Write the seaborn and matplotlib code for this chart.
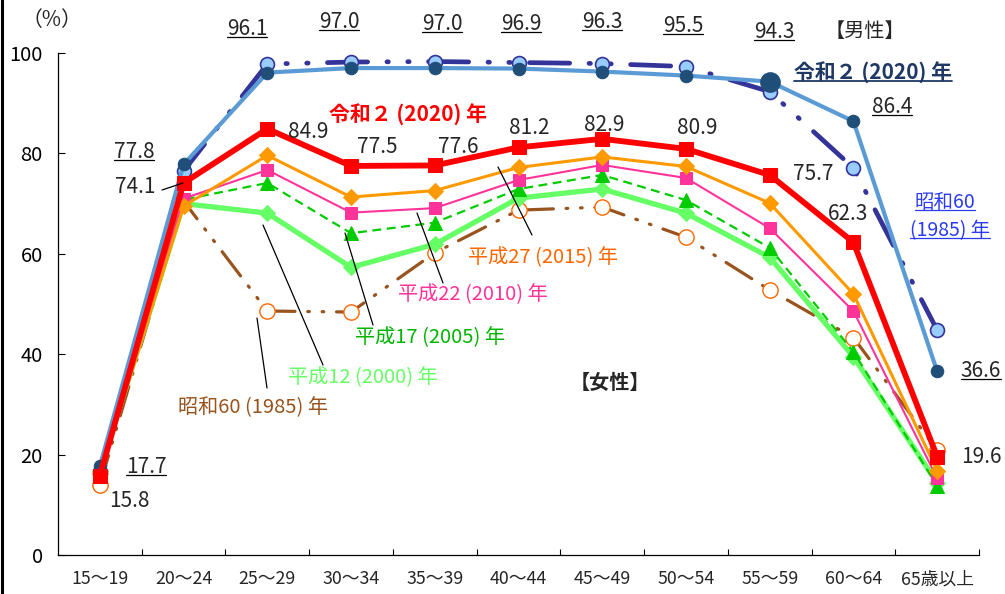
# 年齢階級別労働力率の推移（男性・女性）
import matplotlib
matplotlib.use('Agg')
import matplotlib.pyplot as plt
import seaborn as sns
from matplotlib.lines import Line2D
from matplotlib.ticker import FixedLocator

ages = ['15～19', '20～24', '25～29', '30～34', '35～39', '40～44',
        '45～49', '50～54', '55～59', '60～64', '65歳以上']

male_2020 = [17.7, 77.8, 96.1, 97.0, 97.0, 96.9, 96.3, 95.5, 94.3, 86.4, 36.6]
male_1985 = [16.5, 76.5, 97.8, 98.2, 98.3, 98.1, 97.9, 97.3, 92.3, 77.1, 44.8]
female_2020 = [15.8, 74.1, 84.9, 77.5, 77.6, 81.2, 82.9, 80.9, 75.7, 62.3, 19.6]
female_2015 = [16.2, 69.5, 79.6, 71.3, 72.6, 77.2, 79.3, 77.4, 70.1, 52.0, 16.8]
female_2010 = [15.5, 71.0, 76.7, 68.2, 69.1, 74.7, 77.7, 75.1, 65.1, 48.6, 15.3]
female_2005 = [16.2, 70.8, 74.1, 64.1, 66.2, 72.9, 75.7, 70.7, 61.2, 40.5, 13.8]
female_2000 = [16.8, 70.0, 68.1, 57.3, 61.9, 71.1, 72.9, 68.1, 59.3, 39.5, 14.4]
female_1985 = [14.0, 70.5, 48.6, 48.4, 60.2, 68.7, 69.3, 63.3, 52.8, 43.3, 20.9]

sns.set_style('white')
plt.rcParams['font.family'] = ['Noto Sans CJK JP', 'DejaVu Sans']

W, H = 1005, 594
fig = plt.figure(figsize=(W / 100, H / 100), dpi=100)
ax = fig.add_axes([58 / W, 1 - 555 / H, (979 - 58) / W, (555 - 53) / H])

navy = '#1F4E79'
common = dict(x=ages, sort=False, errorbar=None, ax=ax)

# 女性
sns.lineplot(y=female_1985, color='#99541E', lw=2.3,
             linestyle=(0, (9.5, 4, 0.5, 4, 0.5, 4)), dash_capstyle='round',
             marker='o', ms=11, mfc='white', mec='#FF6600', mew=1.0, zorder=2, **common)
sns.lineplot(y=female_2000, color='#66FF66', lw=3.8, marker='D', ms=8,
             mfc='#66FF66', mec='#66FF66', zorder=3, **common)
sns.lineplot(y=female_2005, color='#00CC00', lw=1.6, linestyle=(0, (4, 2.5)),
             marker='^', ms=10, mfc='#00CC00', mec='#00CC00', zorder=4, **common)
sns.lineplot(y=female_2010, color='#FF3399', lw=1.5, marker='s', ms=8,
             mfc='#FF3399', mec='#FF3399', zorder=5, **common)
sns.lineplot(y=female_2015, color='#FF9900', lw=2.2, marker='D', ms=8,
             mfc='#FF9900', mec='#FF9900', zorder=6, **common)

# 男性
sns.lineplot(y=male_1985, color='#333399', lw=3.4,
             linestyle=(20.7, (8.5, 4.1, 0.3, 4.1, 0.3, 4.1)), dash_capstyle='round',
             marker='o', ms=10, mfc='#99CCFF', mec='#333399', mew=1.2, zorder=7, **common)
sns.lineplot(y=male_2020, color='#5B9BD5', lw=3.0, marker='o', ms=9,
             mfc=navy, mec=navy, zorder=8, **common)
sns.scatterplot(x=[ages[8]], y=[male_2020[8]], s=190, color=navy,
                edgecolor=navy, zorder=9, ax=ax)

sns.lineplot(y=female_2020, color='#FF0000', lw=4.2, marker='s', ms=10,
             mfc='#FF0000', mec='#FF0000', zorder=10, **common)

for ln in ax.lines:
    ln.set_clip_on(False)

ax.set_xlim(-0.5, 10.5)
ax.set_ylim(0, 100)
ax.set_yticks([0, 20, 40, 60, 80, 100])
ax.set_xlabel('')
ax.set_ylabel('')
ax.xaxis.set_minor_locator(FixedLocator([i + 0.5 for i in range(11)]))
ax.tick_params(axis='y', which='major', direction='in', length=5, width=0.8,
               labelsize=14.5, pad=11, left=True, colors='black')
ax.tick_params(axis='x', which='major', length=0, labelsize=12.8, pad=11)
ax.tick_params(axis='x', which='minor', direction='in', length=4, width=0.8,
               bottom=True, color='black')
for side in ['top', 'right']:
    ax.spines[side].set_visible(False)
for side in ['left', 'bottom']:
    ax.spines[side].set_color('black')
    ax.spines[side].set_linewidth(0.9)


def ftext(xp, yp, s, **kw):
    kw.setdefault('ha', 'center')
    kw.setdefault('va', 'center')
    kw.setdefault('fontsize', 15)
    return fig.text(xp / W, 1 - yp / H, s, **kw)


def fline(pts, **kw):
    xs = [p[0] / W for p in pts]
    ys = [1 - p[1] / H for p in pts]
    fig.add_artist(Line2D(xs, ys, transform=fig.transFigure,
                          color=kw.pop('color', 'black'), lw=kw.pop('lw', 0.9)))


ftext(52, 20, '（%）', fontsize=15)

# 男性の数値（下線付き）
underlined = []
male_pos = [(146, 467), (134, 152), (247, 29), (339, 22), (442, 24), (521, 24),
            (602, 22), (683, 26), (774, 32), (892, 107), (981, 371)]
for (xp, yp), v in zip(male_pos, male_2020):
    underlined.append((ftext(xp, yp, f'{v:.1f}'), 'black', 0.9))

# 女性（令和2年）の数値
fem_pos = [(129, 501), (135, 187), (308, 132), (377, 147), (458, 147), (529, 128),
           (604, 125), (697, 128), (813, 174), (848, 214), (981, 457)]
for (xp, yp), v in zip(fem_pos, female_2020):
    ftext(xp, yp, f'{v:.1f}')
fline([(162, 190), (183, 183)])

ftext(865, 31, '【男性】', fontsize=14.5)
ftext(610, 382, '【女性】', fontsize=14.5, fontweight='bold')

ftext(408, 115, '令和２ (2020) 年', fontsize=15, color='#FF0000', fontweight='bold')
underlined.append((ftext(873, 73, '令和２ (2020) 年', fontsize=15, color='#1F3864',
                         fontweight='bold'), '#1F3864', 1.3))
underlined.append((ftext(945, 203, '昭和60', fontsize=14, color='#2B3BF5'), '#2B3BF5', 0.9))
underlined.append((ftext(950, 231, '(1985) 年', fontsize=14, color='#2B3BF5'), '#2B3BF5', 0.9))

ftext(543, 258, '平成27 (2015) 年', fontsize=14.5, color='#FF6600')
fline([(498, 167), (532, 235)])
ftext(473, 295, '平成22 (2010) 年', fontsize=14.5, color='#FF3399')
fline([(417, 213), (443, 283)])
ftext(430, 338, '平成17 (2005) 年', fontsize=14.5, color='#00B400')
fline([(345, 233), (373, 325)])
ftext(363, 378, '平成12 (2000) 年', fontsize=14.5, color='#66FF66')
fline([(263, 225), (323, 365)])
ftext(253, 408, '昭和60 (1985) 年', fontsize=14.5, color='#99541E')
fline([(257, 318), (267, 388)])

# 左端の枠線
fline([(1.5, 0), (1.5, 594)], lw=2.2)

fig.canvas.draw()
renderer = fig.canvas.get_renderer()
for t, c, lw in underlined:
    bb = t.get_window_extent(renderer)
    y = bb.y0 + 3
    fig.add_artist(Line2D([bb.x0 / W, bb.x1 / W], [y / H, y / H],
                          transform=fig.transFigure, color=c, lw=lw))

fig.savefig('out.png', dpi=100)
